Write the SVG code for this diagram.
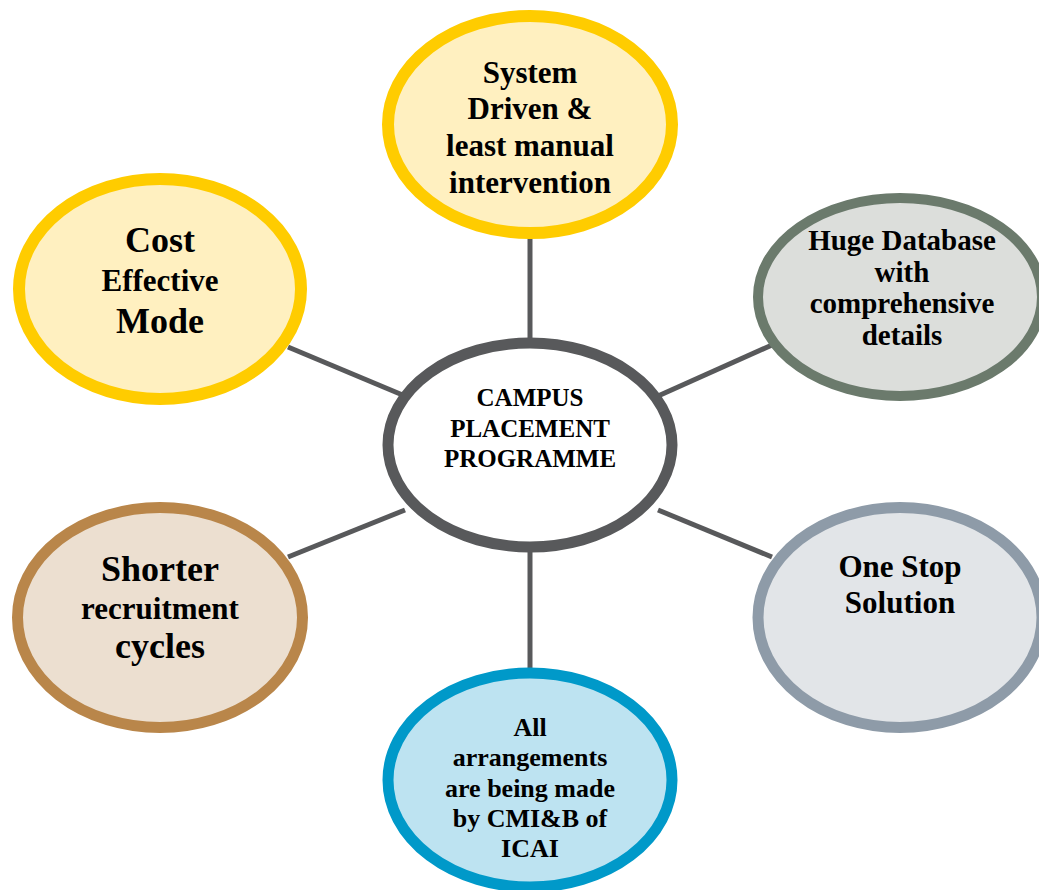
<svg xmlns="http://www.w3.org/2000/svg" width="1039" height="890" viewBox="0 0 1039 890">
<style>
.t{font-family:"Liberation Serif","Times New Roman",serif;font-weight:bold;fill:#000;text-anchor:middle}
.conn{stroke:#58595b;stroke-width:5;fill:none}
.gold{fill:#fff0c0;stroke:#ffcc00;stroke-width:12}
</style>
<rect width="1039" height="890" fill="#fff"/>
<g id="connectors">
<line class="conn" x1="530" y1="238" x2="530" y2="340"/>
<line class="conn" x1="288" y1="347" x2="405" y2="396"/>
<line class="conn" x1="772" y1="345" x2="658" y2="396"/>
<line class="conn" x1="288" y1="557" x2="405" y2="510"/>
<line class="conn" x1="658" y1="510" x2="772" y2="557"/>
<line class="conn" x1="530" y1="550" x2="530" y2="668"/>
</g>
<g id="n-system">
<ellipse class="gold" cx="530" cy="124.5" rx="142" ry="108.5"/>
<text class="t" font-size="31"><tspan x="530" y="83">System</tspan><tspan x="530" y="119">Driven &amp;</tspan><tspan x="530" y="156">least manual</tspan><tspan x="530" y="193">intervention</tspan></text>
</g>
<g id="n-cost">
<ellipse class="gold" cx="160" cy="289" rx="141" ry="110"/>
<text class="t"><tspan x="160" y="252" font-size="36">Cost</tspan><tspan x="160" y="291" font-size="31">Effective</tspan><tspan x="160" y="333" font-size="36">Mode</tspan></text>
</g>
<g id="n-database">
<ellipse cx="900" cy="297" rx="142" ry="99" fill="#dcdedb" stroke="#6b7a6c" stroke-width="10"/>
<text class="t" font-size="29"><tspan x="902" y="250">Huge Database</tspan><tspan x="902" y="282">with</tspan><tspan x="902" y="313">comprehensive</tspan><tspan x="902" y="345">details</tspan></text>
</g>
<g id="n-center">
<ellipse cx="530" cy="445" rx="142" ry="102" fill="#fff" stroke="#58595b" stroke-width="11"/>
<text class="t" font-size="25"><tspan x="530" y="406">CAMPUS</tspan><tspan x="530" y="437">PLACEMENT</tspan><tspan x="530" y="467">PROGRAMME</tspan></text>
</g>
<g id="n-shorter">
<ellipse cx="160" cy="617.5" rx="142.5" ry="110" fill="#ecdfd0" stroke="#b9864a" stroke-width="11"/>
<text class="t"><tspan x="160" y="581" font-size="36">Shorter</tspan><tspan x="160" y="619" font-size="31">recruitment</tspan><tspan x="160" y="658" font-size="36">cycles</tspan></text>
</g>
<g id="n-onestop">
<ellipse cx="900" cy="617.5" rx="142" ry="110" fill="#e2e5e8" stroke="#8e9ba8" stroke-width="11"/>
<text class="t" font-size="31"><tspan x="900" y="577">One Stop</tspan><tspan x="900" y="613">Solution</tspan></text>
</g>
<g id="n-arrangements">
<ellipse cx="530" cy="780" rx="142" ry="107" fill="#bde3f1" stroke="#0099c9" stroke-width="11"/>
<text class="t" font-size="26"><tspan x="530" y="736">All</tspan><tspan x="530" y="766">arrangements</tspan><tspan x="530" y="797">are being made</tspan><tspan x="530" y="827">by CMI&amp;B of</tspan><tspan x="530" y="857">ICAI</tspan></text>
</g>
</svg>
